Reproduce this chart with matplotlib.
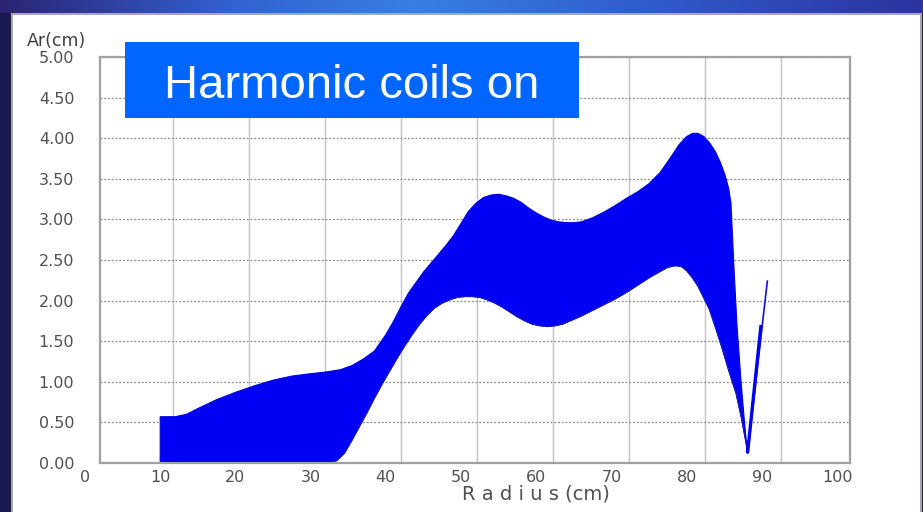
import numpy as np
import matplotlib
matplotlib.use("Agg")
import matplotlib.pyplot as plt
from matplotlib.patches import Rectangle
import matplotlib.transforms as mtrans

# ---------------- data ----------------
radius_upper = [10.0, 10.0, 12.0, 13.5, 15.0, 17.5, 20.0, 22.5, 25.0, 27.5, 30.0, 32.0,
                34.0, 35.5, 37.0, 38.5, 40.0, 41.0, 42.0, 43.0, 44.0, 45.0, 46.0, 47.0,
                48.0, 49.0, 50.0, 51.0, 52.0, 53.0, 54.0, 55.0, 56.0, 57.0, 58.0, 59.0,
                60.0, 61.0, 62.0, 63.0, 64.0, 65.0, 66.0, 67.5, 69.0, 70.5, 72.0, 73.5,
                75.0, 76.5, 78.0, 79.0, 80.0, 80.8, 81.5, 82.3, 83.0, 83.8, 84.5, 85.1,
                85.6, 85.9, 86.1, 86.3, 86.7, 87.2, 87.7, 88.1]
ar_upper = [0.00, 0.57, 0.57, 0.60, 0.67, 0.78, 0.87, 0.95, 1.02, 1.07, 1.10, 1.12,
            1.15, 1.20, 1.28, 1.38, 1.58, 1.74, 1.92, 2.09, 2.22, 2.35, 2.46, 2.57,
            2.68, 2.80, 2.95, 3.10, 3.20, 3.27, 3.30, 3.31, 3.29, 3.26, 3.21, 3.14,
            3.08, 3.03, 2.99, 2.97, 2.96, 2.96, 2.97, 3.02, 3.09, 3.17, 3.26, 3.34,
            3.44, 3.58, 3.78, 3.92, 4.02, 4.06, 4.06, 4.02, 3.95, 3.84, 3.70, 3.55,
            3.38, 3.20, 2.80, 2.40, 1.70, 1.05, 0.50, 0.12]

radius_lower = [10.0, 32.5, 33.5, 34.5, 35.5, 36.5, 37.5, 38.5, 39.5, 40.5, 41.5, 42.5,
                43.5, 44.5, 45.5, 46.5, 47.5, 48.5, 49.5, 50.5, 51.5, 52.5, 53.5, 54.5,
                55.5, 56.5, 57.5, 58.5, 59.5, 60.5, 61.5, 62.5, 63.5, 64.5, 66.0, 67.5,
                69.0, 70.5, 72.0, 73.5, 75.0, 76.5, 77.5, 78.5, 79.3, 80.0, 80.7, 81.5,
                82.3, 83.0, 83.8, 84.7, 85.6, 86.6, 87.3, 87.9, 88.1]
ar_lower = [0.00, 0.00, 0.03, 0.12, 0.28, 0.45, 0.62, 0.80, 0.97, 1.13, 1.29, 1.44,
            1.58, 1.71, 1.82, 1.91, 1.97, 2.01, 2.04, 2.05, 2.05, 2.04, 2.01, 1.97,
            1.92, 1.86, 1.80, 1.75, 1.71, 1.69, 1.68, 1.69, 1.71, 1.75, 1.81, 1.88,
            1.95, 2.02, 2.10, 2.19, 2.28, 2.36, 2.41, 2.43, 2.42, 2.37, 2.29, 2.18,
            2.03, 1.90, 1.68, 1.42, 1.14, 0.85, 0.55, 0.25, 0.12]

tail_r_a = [88.1, 90.75]
tail_ar_a = [0.12, 2.25]
tail_r_b = [88.1, 89.9]
tail_ar_b = [0.12, 1.70]

x_ticks = [0, 10, 20, 30, 40, 50, 60, 70, 80, 90, 100]
y_ticks = [0.0, 0.5, 1.0, 1.5, 2.0, 2.5, 3.0, 3.5, 4.0, 4.5, 5.0]

title_text = "Harmonic coils on"
x_label = "R a d i u s (cm)"
y_label = "Ar(cm)"

# ---------------- figure ----------------
W, H = 923, 512
fig = plt.figure(figsize=(W / 100, H / 100), dpi=100)
fig.patch.set_facecolor("#1c1a58")


def fx(px):
    return px / W


def fy(py):
    return 1 - py / H


# slide background
bg = fig.add_axes([0, 0, 1, 1], zorder=-5)
bg.set_xlim(0, W)
bg.set_ylim(H, 0)
bg.axis("off")
stops = np.array([0.0, 0.25, 0.45, 0.7, 1.0])
cols = np.array([[0.17, 0.14, 0.45],
                 [0.20, 0.38, 0.82],
                 [0.22, 0.50, 0.88],
                 [0.19, 0.36, 0.80],
                 [0.17, 0.20, 0.62]])
xs = np.linspace(0, 1, 400)
grad = np.stack([np.interp(xs, stops, cols[:, c]) for c in range(3)], axis=-1)[None, :, :]
bg.imshow(grad, extent=[0, W, 13, 0], aspect="auto", interpolation="bilinear")
bg.add_patch(Rectangle((0, 13), 11, H, facecolor="#1a1850", edgecolor="none"))
bg.add_patch(Rectangle((921, 13), 2, H, facecolor="#1a1850", edgecolor="none"))
bg.add_patch(Rectangle((12, 14), 909, 510, facecolor="white", edgecolor="#a8a8a8", lw=1.5))

# main axes
ax = fig.add_axes([fx(100), fy(463), fx(850) - fx(100), fy(57) - fy(463)], zorder=1)
ax.set_facecolor("white")
x0 = (100 - 85) / 7.52
x1 = (850 - 85) / 7.52
ax.set_xlim(x0, x1)
ax.set_ylim(0, 5)

# grid
ax.set_yticks(y_ticks)
ax.set_yticklabels([f"{v:.2f}" for v in y_ticks])
ax.set_xticks([])
ax.yaxis.grid(True, linestyle=(0, (1.5, 1.5)), color="#8a8a8a", lw=0.9, zorder=0)
ax.set_axisbelow(True)
for t in x_ticks[1:-1]:
    ax.axvline(1.6 + 1.0106 * t, color="#c4c4c4", lw=1.0, zorder=0.5)

ax.tick_params(axis="y", length=0, pad=18.5, labelsize=11.5, labelcolor="#505050")
for s in ax.spines.values():
    s.set_color("#a0a0a0")
    s.set_linewidth(1.6)

# band of trajectories
poly_x = radius_upper + radius_lower[::-1]
poly_y = ar_upper + ar_lower[::-1]
ax.fill(poly_x, poly_y, facecolor="#0000f5", edgecolor="#0000e0", lw=0.8, zorder=2)
ax.plot(radius_lower, ar_lower, color="#1a1ab8", lw=0.8, zorder=2.5)
ax.plot(tail_r_a, tail_ar_a, color="#1010e0", lw=1.2, zorder=2.5, solid_capstyle="butt")
ax.plot(tail_r_b, tail_ar_b, color="#0000f0", lw=2.4, zorder=2.5, solid_capstyle="butt")

# x tick labels (drawn as text, offset from gridlines as in the original)
trans = mtrans.blended_transform_factory(ax.transData, ax.transAxes)
for t in x_ticks:
    ax.text(t, -15 / 406, str(t), transform=trans, ha="center", va="center",
            fontsize=11.5, color="#505050", clip_on=False)

fig.text(fx(536), fy(494), x_label, ha="center", va="center", fontsize=14, color="#505050")
fig.text(fx(56), fy(41), y_label, ha="center", va="center", fontsize=12.5, color="#404040")

# label box
fig.add_artist(Rectangle((fx(125), fy(118)), fx(579) - fx(125), fy(42) - fy(118),
                         transform=fig.transFigure, facecolor="#0066ff",
                         edgecolor="none", zorder=10))
fig.text(fx(351.5), fy(98), title_text, ha="center", va="baseline", fontsize=34,
         family="Liberation Sans", color="white", zorder=11)

fig.savefig("out.png", dpi=100, facecolor=fig.get_facecolor())
